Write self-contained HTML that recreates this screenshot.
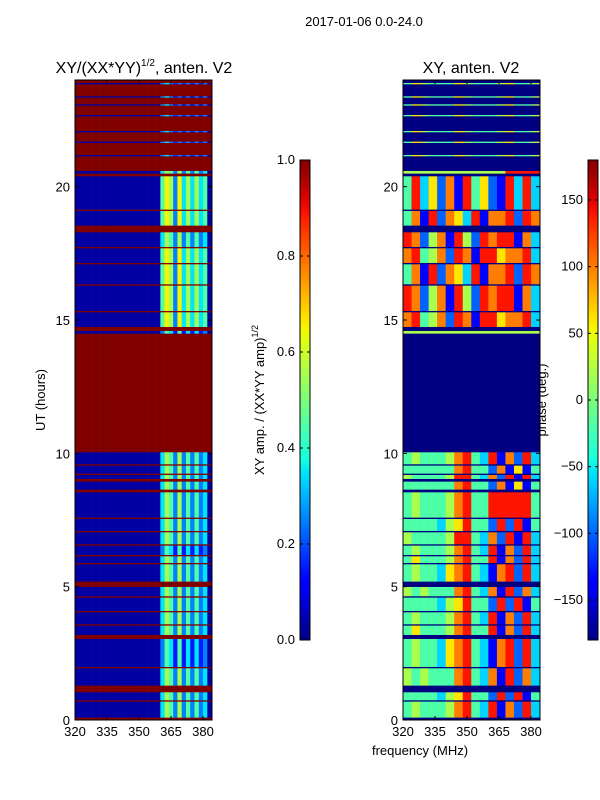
<!DOCTYPE html>
<html><head><meta charset="utf-8">
<style>
html,body{margin:0;padding:0;background:#fff;}
svg{display:block;font-family:"Liberation Sans",sans-serif;}
</style></head>
<body>
<svg id="fig" width="600" height="800" viewBox="0 0 600 800">
<text x="364" y="26" font-size="13" text-anchor="middle">2017-01-06 0.0-24.0</text>
<text x="144" y="73" font-size="16" text-anchor="middle">XY/(XX*YY)<tspan font-size="10" dy="-7">1/2</tspan><tspan dy="7">, anten. V2</tspan></text>
<text x="471" y="73" font-size="16" text-anchor="middle">XY, anten. V2</text>
<text transform="translate(45,400) rotate(-90)" font-size="13" text-anchor="middle">UT (hours)</text>
<text x="420" y="755" font-size="13" text-anchor="middle">frequency (MHz)</text>
<text transform="translate(264,400) rotate(-90)" font-size="13" text-anchor="middle">XY amp. / (XX*YY amp)<tspan font-size="9" dy="-6">1/2</tspan></text>
<text transform="translate(546,400) rotate(-90)" font-size="13" text-anchor="middle">phase (deg.)</text>
<g id="p1"></g>
<g id="p2"></g>
<g id="cb"></g>
<g id="ax"></g>
</svg>
<script>
// time segments (hours); amplitude rows: 32 bins of 2 MHz; phase rows: 16 bins of 4 MHz (from 320 MHz)
const segStart=[0,0.1,0.7,0.75,1.05,1.3,1.95,2.0,3.05,3.2,3.55,3.6,4.05,4.1,4.6,4.65,5.0,5.2,5.85,5.9,6.15,6.2,6.55,6.6,7.05,7.1,7.55,7.6,8.55,8.65,8.95,9.05,9.2,9.25,9.55,9.6,10.05,14.5,14.6,14.75,15.3,15.35,16.3,16.35,17.1,17.15,17.7,17.75,18.3,18.55,19.1,19.15,20.4,20.5,20.6,21.15,21.2,21.65,21.7,22.05,22.1,22.65,22.7,23.05,23.1,23.35,23.4,23.85,23.9];
const segEnd=[0.1,0.7,0.75,1.05,1.3,1.95,2.0,3.05,3.2,3.55,3.6,4.05,4.1,4.6,4.65,5.0,5.2,5.85,5.9,6.15,6.2,6.55,6.6,7.05,7.1,7.55,7.6,8.55,8.65,8.95,9.05,9.2,9.25,9.55,9.6,10.05,14.5,14.6,14.75,15.3,15.35,16.3,16.35,17.1,17.15,17.7,17.75,18.3,18.55,19.1,19.15,20.4,20.5,20.6,21.15,21.2,21.65,21.7,22.05,22.1,22.65,22.7,23.05,23.1,23.35,23.4,23.85,23.9,24];
const F="99999999999999999999999999999999", PF="0000000000000000";
const A1="00000000000000000000354252424230";
const A2="00000000000000000000465263535340";
const A3="00000000000000000000243141313120";
const AL="00000000000000000000232121212120";
const P=["4544457843817283","4444356844282814","5454447843718273","4544367843178283","4644457844817283","5444458843728183","4544457844888884","4444447844271614"];
const Q=["7845728718867783","8725718528788173","4718276381778287","4836271846218383","5555555555558888"];
const PL="4654446544456445";
const ampRows=[F,A1,F,A1,F,A1,F,A3,F,A1,F,A1,F,A1,F,A1,F,A1,F,A1,F,A3,F,A1,F,A1,F,A1,F,A1,F,A1,F,A1,F,A1,F,A3,F,A2,F,A2,F,A2,F,A2,F,A1,F,A2,F,A2,F,A1,F,AL,F,AL,F,AL,F,AL,F,AL,F,AL,F,AL,F];
const phaseRows=[PF,P[0],PF,P[1],PF,P[2],PF,P[3],PF,P[4],PF,P[0],PF,P[1],PF,P[2],PF,P[3],PF,P[4],PF,P[0],PF,P[5],PF,P[1],PF,P[6],PF,P[7],PF,P[5],PF,P[7],PF,P[0],PF,"5555555555555555",PF,Q[0],PF,Q[1],PF,Q[2],PF,Q[0],PF,Q[1],PF,Q[2],PF,Q[3],PF,Q[4],PF,PL,PF,PL,PF,PL,PF,PL,PF,PL,PF,PL,PF,PL,PF];
const ampLevels=[0.03,0.15,0.25,0.35,0.45,0.55,0.65,0.75,0.85,1.0];
const freqStart=320, ampStep=2, phaseStep=4;
const xTicks=[320,335,350,365,380];
const yTicks=[0,5,10,15,20];
const ampTicks=[0.0,0.2,0.4,0.6,0.8,1.0];
const phaseTicks=[-150,-100,-50,0,50,100,150];

const NS="http://www.w3.org/2000/svg";
function jet(v){v=Math.max(0,Math.min(1,v));
 function seg(pts){for(let i=1;i<pts.length;i++){if(v<=pts[i][0]){const a=pts[i-1],b=pts[i];return a[1]+(b[1]-a[1])*(v-a[0])/(b[0]-a[0]);}}return pts[pts.length-1][1];}
 const r=seg([[0,0],[0.35,0],[0.66,1],[0.89,1],[1,0.5]]);
 const g=seg([[0,0],[0.125,0],[0.375,1],[0.64,1],[0.91,0],[1,0]]);
 const b=seg([[0,0.5],[0.11,1],[0.34,1],[0.65,0],[1,0]]);
 return `rgb(${Math.round(r*255)},${Math.round(g*255)},${Math.round(b*255)})`;}
const yTop=80,yBot=720,xl1=75,xl2=403,pw=137;
const yS=t=>yBot-(t/24)*(yBot-yTop);
const xS=(x0,f)=>x0+(f-320)*(pw/64.2);
function rect(g,x,y,w,h,fill,name){const r=document.createElementNS(NS,'rect');
 r.setAttribute('x',x);r.setAttribute('y',y);r.setAttribute('width',w);r.setAttribute('height',h);r.setAttribute('fill',fill);
 
 
 g.appendChild(r);return r;}
function txt(s,x,y,anchor,name){const t=document.createElementNS(NS,'text');
 t.setAttribute('x',x);t.setAttribute('y',y);t.setAttribute('font-size','13');t.setAttribute('text-anchor',anchor);t.textContent=s;
 
 
 document.getElementById('ax').appendChild(t);}
function line(x1,y1,x2,y2,name){const l=document.createElementNS(NS,'line');
 l.setAttribute('x1',x1);l.setAttribute('y1',y1);l.setAttribute('x2',x2);l.setAttribute('y2',y2);l.setAttribute('stroke','#000');l.setAttribute('stroke-width','1');
 
 
 document.getElementById('ax').appendChild(l);}
const g1=document.getElementById('p1'),g2=document.getElementById('p2');
rect(g2,xl2,yTop,pw,yBot-yTop,jet(0),'phase-background');
for(let i=0;i<segStart.length;i++){
 const y0=yS(segEnd[i]),y1=yS(segStart[i]);
 const ar=ampRows[i]||F, pr=phaseRows[i]||PF;
 for(let c=0;c<ar.length;c++){
  const f0=freqStart+c*ampStep,f1=Math.min(f0+ampStep,384.2);
  const av=ampLevels[+ar[c]];
  rect(g1,xS(xl1,f0),y0,xS(xl1,f1)-xS(xl1,f0)+0.3,y1-y0+0.3,jet(av),'amp-cell');
 }
 for(let c=0;c<pr.length;c++){
  const f0=freqStart+c*phaseStep,f1=Math.min(f0+phaseStep,384.2);
  const pv=-180+(+pr[c])*40;
  rect(g2,xS(xl2,f0),y0,xS(xl2,f1)-xS(xl2,f0)+0.3,y1-y0+0.3,jet((pv+180)/360),'phase-cell');
 }
}
// colorbars
const cbg=document.getElementById('cb');
const def=document.createElementNS(NS,'defs');
const lg=document.createElementNS(NS,'linearGradient');lg.setAttribute('id','jetg');lg.setAttribute('x1','0');lg.setAttribute('y1','1');lg.setAttribute('x2','0');lg.setAttribute('y2','0');
for(let i=0;i<=40;i++){const s=document.createElementNS(NS,'stop');s.setAttribute('offset',i/40);s.setAttribute('stop-color',jet(i/40));lg.appendChild(s);}
def.appendChild(lg);cbg.appendChild(def);
[[300,'amp-colorbar'],[588,'phase-colorbar']].forEach(([x,n])=>{const r=rect(cbg,x,160,10,480,'url(#jetg)',n);r.setAttribute('stroke','#000');});
ampTicks.forEach(v=>{const y=640-v*480;txt(v.toFixed(1),295,y+4,'end','amp-tick-label');line(300,y,303,y,'amp-tick');line(307,y,310,y,'amp-tick');});
phaseTicks.forEach(v=>{const y=640-(v+180)/360*480;txt(v<0?'\u2212'+(-v):''+v,583,y+4,'end','phase-tick-label');line(588,y,591,y,'phase-tick');line(595,y,598,y,'phase-tick');});
// axes frames and ticks
[xl1,xl2].forEach((x0,k)=>{
 const fr=rect(document.getElementById('ax'),x0,yTop,pw,yBot-yTop,'none',k?'right-panel-frame':'left-panel-frame');fr.setAttribute('stroke','#000');
 xTicks.forEach(f=>{const x=xS(x0,f);txt(''+f,x,736,'middle','x-tick-label');line(x,yBot,x,yBot-4,'x-tick');line(x,yTop,x,yTop+4,'x-tick');});
 yTicks.forEach(t=>{const y=yS(t);txt(''+t,x0-5,y+5,'end','y-tick-label');line(x0,y,x0+4,y,'y-tick');line(x0+pw,y,x0+pw-4,y,'y-tick');});
});
</script>
</body></html>
